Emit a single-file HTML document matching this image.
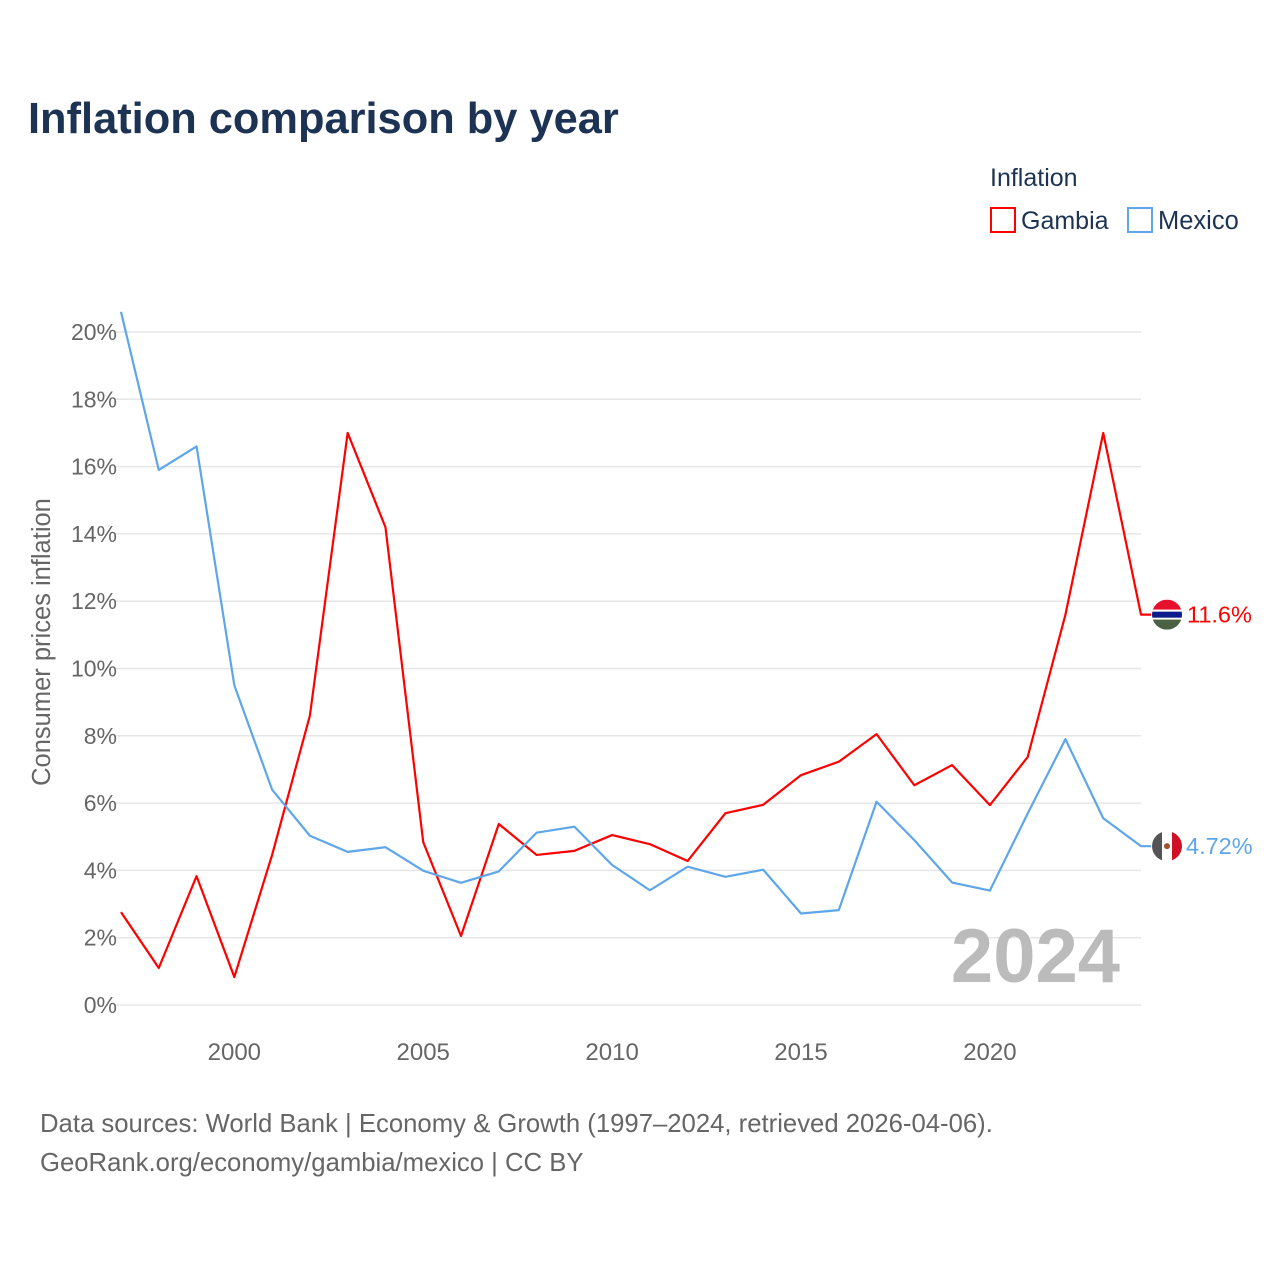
<!DOCTYPE html>
<html><head><meta charset="utf-8"><style>
body{margin:0;background:#fff;font-family:"Liberation Sans",sans-serif;}
svg text{font-family:"Liberation Sans",sans-serif;}
</style></head><body>
<svg id="chart" width="1280" height="1280" xmlns="http://www.w3.org/2000/svg">
<text x="28" y="133" font-size="43.4" font-weight="bold" fill="#1c3353">Inflation comparison by year</text>
<text x="990" y="186" font-size="25" fill="#1c3353">Inflation</text>
<g><rect x="991" y="208" width="24" height="24" fill="none" stroke="#ff0000" stroke-width="2"/><text x="1021" y="229" font-size="25" fill="#1c3353">Gambia</text></g>
<g><rect x="1128" y="208" width="24" height="24" fill="none" stroke="#5ea6ea" stroke-width="2"/><text x="1158" y="229" font-size="25.5" fill="#1c3353">Mexico</text></g>
<g id="grid"></g>
<g id="yticks"></g>
<g id="xticks"></g>
<text transform="translate(50,642) rotate(-90)" text-anchor="middle" font-size="25.5" fill="#666">Consumer prices inflation</text>
<text x="1120" y="982" text-anchor="end" font-size="76" font-weight="bold" fill="#bbb">2024</text>
<g id="series"></g>
<text x="40" y="1132" font-size="25.7" fill="#666">Data sources: World Bank | Economy &amp; Growth (1997–2024, retrieved 2026-04-06).</text>
<text x="40" y="1171" font-size="25.7" fill="#666">GeoRank.org/economy/gambia/mexico | CC BY</text>
</svg>
<script>
const years=[1997,1998,1999,2000,2001,2002,2003,2004,2005,2006,2007,2008,2009,2010,2011,2012,2013,2014,2015,2016,2017,2018,2019,2020,2021,2022,2023,2024];
const gambia=[2.76,1.1,3.83,0.83,4.46,8.6,17.0,14.2,4.84,2.05,5.38,4.46,4.58,5.05,4.78,4.28,5.7,5.95,6.83,7.23,8.05,6.53,7.13,5.94,7.37,11.6,17.0,11.6];
const mexico=[20.6,15.9,16.6,9.5,6.4,5.03,4.55,4.69,3.99,3.63,3.97,5.12,5.3,4.16,3.41,4.11,3.81,4.02,2.72,2.82,6.04,4.9,3.64,3.4,5.69,7.9,5.55,4.72];
const yTicks=[0,2,4,6,8,10,12,14,16,18,20];
const xTicks=[2000,2005,2010,2015,2020];
const NS="http://www.w3.org/2000/svg";
const x=v=>121+(v-1997)*(1141-121)/27;
const y=v=>1005-v*33.65;
function mk(t,a,p){const e=document.createElementNS(NS,t);for(const k in a)e.setAttribute(k,a[k]);p.appendChild(e);return e;}
const grid=document.getElementById('grid'),yt=document.getElementById('yticks'),xt=document.getElementById('xticks'),se=document.getElementById('series');
yTicks.forEach(v=>{
 const l=mk('line',{x1:115,x2:1141,y1:y(v),y2:y(v),stroke:'#e6e6e6','stroke-width':1.5},grid);
 
 
 const t=mk('text',{x:117,y:y(v)+8,'text-anchor':'end','font-size':23,fill:'#666'},yt);t.textContent=v+'%';
 
 
});
xTicks.forEach(v=>{
 const t=mk('text',{x:x(v),y:1060,'text-anchor':'middle','font-size':24,fill:'#666'},xt);t.textContent=v;
 
 
});
function line(vals,color,name){
 const pts=vals.map((v,i)=>x(years[i])+','+y(v));
 const last=vals[vals.length-1];
 pts.push((x(years[years.length-1])+10)+','+y(last));
 const p=mk('polyline',{points:pts.join(' '),fill:'none',stroke:color,'stroke-width':2.2,'stroke-linejoin':'round'},se);
 
 
 return y(last);
}
const gy=line(gambia,'#ff0000','gambia');
const my=line(mexico,'#5ea6ea','mexico');
const fg=mk('g',{},se);


mk('clipPath',{id:'cg'},fg);mk('circle',{cx:1167,cy:gy,r:15},document.getElementById('cg'));
const gg=mk('g',{'clip-path':'url(#cg)'},fg);
mk('rect',{x:1152,y:gy-15,width:30,height:10,fill:'#e8112d'},gg);
mk('rect',{x:1152,y:gy-5,width:30,height:10,fill:'#fff'},gg);
mk('rect',{x:1152,y:gy-3,width:30,height:6,fill:'#0c1c8c'},gg);
mk('rect',{x:1152,y:gy+5,width:30,height:10,fill:'#3a7728'},gg);
mk('rect',{x:1152,y:gy+5,width:30,height:10,fill:'#555',opacity:0.6},gg);
const mf=mk('g',{},se);


mk('clipPath',{id:'cm'},mf);mk('circle',{cx:1167,cy:my,r:15},document.getElementById('cm'));
const mg=mk('g',{'clip-path':'url(#cm)'},mf);
mk('rect',{x:1152,y:my-15,width:10,height:30,fill:'#555'},mg);
mk('rect',{x:1162,y:my-15,width:10,height:30,fill:'#fff'},mg);
mk('rect',{x:1172,y:my-15,width:10,height:30,fill:'#ce1126'},mg);
mk('circle',{cx:1167,cy:my,r:3,fill:'#a0522d'},mg);
const t1=mk('text',{x:1187,y:gy+8,'font-size':23.5,fill:'#ff0000'},se);t1.textContent=gambia[gambia.length-1]+'%';


const t2=mk('text',{x:1186,y:my+8,'font-size':23.5,fill:'#5ea6ea'},se);t2.textContent=mexico[mexico.length-1]+'%';


</script>
</body></html>
